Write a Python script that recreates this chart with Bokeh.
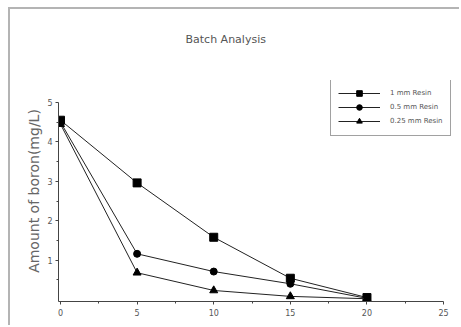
from bokeh.plotting import figure
from bokeh.models import Range1d, FixedTicker, Legend, LegendItem, InlineStyleSheet, Title
from bokeh.embed import file_html
from bokeh.resources import INLINE

time = [0, 5, 10, 15, 20]
resin_1mm = [4.55, 2.96, 1.58, 0.54, 0.05]
resin_05mm = [4.50, 1.16, 0.71, 0.40, 0.03]
resin_025mm = [4.45, 0.68, 0.23, 0.08, 0.02]
series_names = ["1 mm Resin", "0.5 mm Resin", "0.25 mm Resin"]
x_ticks = [0, 5, 10, 15, 20, 25]
y_ticks = [1, 2, 3, 4, 5]

FONT = "DejaVu Sans"
TXT = "#555555"

p = figure(width=451, height=318, output_backend="svg", toolbar_location=None,
           x_range=Range1d(-0.13, 26.17), y_range=Range1d(-0.05, 5.558),
           min_border_left=48, min_border_right=0, min_border_top=71, min_border_bottom=26)
p.stylesheets = [InlineStyleSheet(css=":host { margin-left: 8px; margin-top: 7px; "
                                      "border-top: 2px solid #b4b4b4; border-left: 2px solid #b4b4b4; }")]
p.outline_line_color = None
p.grid.visible = False
p.background_fill_color = "white"
p.border_fill_color = "white"

spacer = Title(text=" ", align="center", text_font=FONT, text_font_size="11px", standoff=18)
p.add_layout(spacer, "above")
t = Title(text="Batch Analysis", align="left", offset=127, text_font=FONT, text_font_size="11px",
          text_font_style="normal", text_color=TXT, standoff=4)
p.add_layout(t, "above")

xa = p.xaxis[0]
xa.bounds = (-0.13, 25)
xa.ticker = FixedTicker(ticks=x_ticks, minor_ticks=[2.5, 7.5, 12.5, 17.5, 22.5])
ya = p.yaxis[0]
ya.bounds = (-0.05, 5)
ya.ticker = FixedTicker(ticks=y_ticks, minor_ticks=[0.5, 1.5, 2.5, 3.5, 4.5])
for ax in (xa, ya):
    ax.axis_line_color = "#444444"
    ax.major_tick_line_color = "#444444"
    ax.minor_tick_line_color = "#444444"
    ax.major_tick_out = 3
    ax.major_tick_in = 0
    ax.minor_tick_out = 2
    ax.minor_tick_in = 0
    ax.major_label_text_font = FONT
    ax.major_label_text_font_size = "8px"
    ax.major_label_text_color = TXT
xa.major_label_standoff = 4
ya.major_label_standoff = 3
ya.axis_label = "Amount of boron(mg/L)"
ya.axis_label_text_font = FONT
ya.axis_label_text_font_size = "14px"
ya.axis_label_text_font_style = "normal"
ya.axis_label_text_color = "#666666"
ya.axis_label_standoff = 2

lc = "#222222"
r1l = p.line(time, resin_1mm, line_color=lc, line_width=1)
r1m = p.scatter(time, resin_1mm, marker="square", size=8, fill_color="black", line_color="black")
r2l = p.line(time, resin_05mm, line_color=lc, line_width=1)
r2m = p.scatter(time, resin_05mm, marker="circle", size=7, fill_color="black", line_color="black")
r3l = p.line(time, resin_025mm, line_color=lc, line_width=1)
r3m = p.scatter(time, resin_025mm, marker="triangle", size=8, fill_color="black", line_color="black")

legend = Legend(items=[LegendItem(label=series_names[0], renderers=[r1l, r1m]),
                       LegendItem(label=series_names[1], renderers=[r2l, r2m]),
                       LegendItem(label=series_names[2], renderers=[r3l, r3m])],
                location=(272, 165), orientation="vertical",
                label_text_font=FONT, label_text_font_size="7px", label_text_color=TXT,
                glyph_width=42, glyph_height=14, label_height=14, spacing=0, padding=7,
                margin=0, label_standoff=10,
                border_line_color="#444444", border_line_width=1.5,
                background_fill_alpha=1)
p.add_layout(legend, "center")

open("out.html", "w").write(file_html(p, INLINE))
